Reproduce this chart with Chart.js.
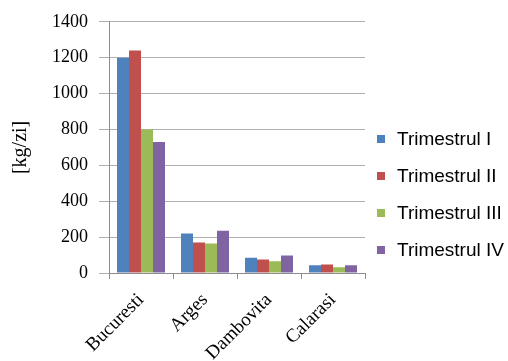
<!DOCTYPE html>
<html>
<head>
<meta charset="utf-8">
<script src="https://cdn.jsdelivr.net/npm/chart.js@4/dist/chart.umd.min.js"></script>
<style>
  html, body { margin: 0; padding: 0; background: #ffffff; }
  #wrap { width: 508px; height: 361px; position: relative; }
</style>
</head>
<body>
<div id="wrap"><canvas id="c" width="508" height="361"></canvas></div>
<script>
// Judete
const categories = ['Bucuresti', 'Arges', 'Dambovita', 'Calarasi'];

// Cantitati pe trimestre [kg/zi]
const trimestrulI   = [1200, 220, 85, 43];
const trimestrulII  = [1240, 170, 75, 48];
const trimestrulIII = [800, 165, 65, 32];
const trimestrulIV  = [730, 235, 97, 43];

const seriesNames = ['Trimestrul I', 'Trimestrul II', 'Trimestrul III', 'Trimestrul IV'];
const seriesColors = ['#4F81BD', '#C0504D', '#9BBB59', '#8064A2'];

// Axa verticala
const yTicks = [0, 200, 400, 600, 800, 1000, 1200, 1400];

const serif = '"Liberation Serif", "Times New Roman", serif';
const sans = '"Liberation Sans", Arial, sans-serif';

// Legenda desenata in dreapta graficului
const sideLegend = {
  id: 'sideLegend',
  afterDraw(chart) {
    const ctx = chart.ctx;
    ctx.save();
    ctx.font = '19px ' + sans;
    ctx.textBaseline = 'middle';
    ctx.textAlign = 'left';
    chart.data.datasets.forEach((ds, i) => {
      const y = 139 + i * 37;
      ctx.fillStyle = ds.backgroundColor;
      ctx.fillRect(377, y - 4, 8, 8);
      ctx.fillStyle = '#000000';
      ctx.fillText(ds.label, 397, y + 1);
    });
    ctx.restore();
  }
};

const seriesData = [trimestrulI, trimestrulII, trimestrulIII, trimestrulIV];

new Chart(document.getElementById('c'), {
  type: 'bar',
  data: {
    labels: categories,
    datasets: seriesData.map((d, i) => ({
      label: seriesNames[i],
      data: d,
      backgroundColor: seriesColors[i],
      borderWidth: 0,
      barPercentage: 1,
      categoryPercentage: 0.75
    }))
  },
  plugins: [sideLegend],
  options: {
    responsive: false,
    animation: false,
    layout: { padding: { top: 20, right: 143, bottom: 0, left: 0 } },
    plugins: {
      legend: { display: false },
      tooltip: { enabled: false }
    },
    scales: {
      x: {
        afterFit(scale) { scale.height = 88; },
        grid: {
          offset: true,
          drawOnChartArea: false,
          drawTicks: true,
          tickLength: 6,
          color: '#8c8c8c'
        },
        border: { color: '#8c8c8c', width: 1 },
        ticks: {
          color: '#000000',
          font: { family: serif, size: 19 },
          maxRotation: 45,
          minRotation: 45,
          padding: 10
        }
      },
      y: {
        min: 0,
        max: 1400,
        afterFit(scale) { scale.width = 109; },
        afterBuildTicks(scale) { scale.ticks = yTicks.map(v => ({ value: v })); },
        grid: {
          color: '#b0b0b0',
          tickLength: 10,
          lineWidth: 1
        },
        border: { color: '#8c8c8c', width: 1 },
        ticks: {
          color: '#000000',
          font: { family: serif, size: 18 },
          padding: 11,
          callback: (v) => String(v)
        },
        title: {
          display: true,
          text: '[kg/zi]',
          color: '#000000',
          font: { family: serif, size: 20 },
          padding: { top: 9, bottom: 0 }
        }
      }
    }
  }
});
</script>
</body>
</html>
